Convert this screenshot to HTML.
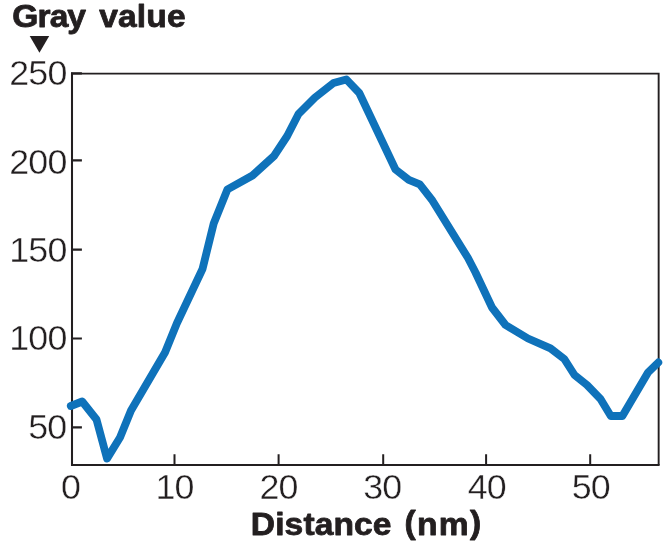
<!DOCTYPE html>
<html lang="en">
<head>
<meta charset="utf-8">
<title>Gray value vs Distance (nm)</title>
<style>
html,body{margin:0;padding:0;background:#fff;}
body{width:667px;height:544px;overflow:hidden;position:relative;}
svg{position:absolute;left:0;top:0;display:block;}
text{font-family:"Liberation Sans","DejaVu Sans",sans-serif;fill:#231f20;}
.b{font-weight:bold;font-size:31.4px;stroke:#231f20;stroke-width:0.8px;stroke-linejoin:round;}
.t{font-size:35.8px;stroke:#fff;stroke-width:0.4px;letter-spacing:-0.9px;}
</style>
</head>
<body>
<svg width="667" height="544" viewBox="0 0 667 544">
  <rect width="667" height="544" fill="#fff"/>
  <!-- plot frame and tick marks -->
  <g fill="none" stroke="#231f20" stroke-width="2">
    <path d="M71 73.65H659.6M658.65 73.65V464.95" stroke-width="1.9"/>
    <path d="M72 72.7V465.95M72 464.95H659.6" stroke-width="2.05"/>
    <path d="M71 73.3h10.9M71 160.4h10.9M71 249.7h10.9M71 338.5h10.9M71 427.3h10.9" stroke-width="2.2"/>
    <path d="M174.5 464.95v-10.6M278.6 464.95v-10.6M383.2 464.95v-10.6M486.1 464.95v-10.6M590.2 464.95v-10.6"/>
  </g>
  <!-- gray value profile -->
  <polyline fill="none" stroke="#0f72ba" stroke-width="7.8" stroke-linejoin="round" stroke-linecap="round"
    points="70.8,406 82.2,401.5 96.5,419.5 107,458.6 120,437.5 131,410.5 165,352.5 177,323 202.5,269 213.7,223.5 227.5,189.3 252.5,175.5 274,156 287.2,136 298.5,114 315,97.5 333.5,83 346.3,79.4 359.3,93 395.5,169.5 408.8,179.8 419.8,184.3 432.5,200.7 468,258 475.5,272.5 492,307.5 505.5,325 528,338.5 550.5,348.3 564.3,359 574.5,375 587,385 600.5,399 610.8,416 622.4,416 648,372.5 658.3,362.5"/>
  <!-- y axis title -->
  <text class="b" transform="translate(0 27.2) scale(1.07 1)"><tspan x="11.57" letter-spacing="-0.9">Gray</tspan> <tspan x="92.66" letter-spacing="0.17">value</tspan></text>
  <path d="M29.7 36h19.5l-9.75 16.8z" fill="#231f20"/>
  <!-- y tick labels -->
  <g class="t" text-anchor="end">
    <text x="66.4" y="84.9">250</text>
    <text x="66.4" y="174">200</text>
    <text x="66.4" y="262">150</text>
    <text x="66.4" y="350">100</text>
    <text x="66.4" y="439">50</text>
  </g>
  <!-- x tick labels -->
  <g class="t" text-anchor="middle">
    <text x="70.4" y="499.4">0</text>
    <text x="174.6" y="499.4">10</text>
    <text x="278.5" y="499.4">20</text>
    <text x="382.3" y="499.4">30</text>
    <text x="486.7" y="499.4">40</text>
    <text x="590.7" y="499.4">50</text>
  </g>
  <!-- x axis title -->
  <text class="b" transform="translate(0 535.0) scale(1.07 1)"><tspan x="234.45" letter-spacing="0.09">Distance</tspan> <tspan x="377.93" letter-spacing="1.24"><tspan dy="-1.7">(</tspan><tspan dy="1.7">nm</tspan><tspan dy="-1.7">)</tspan></tspan></text>
</svg>
</body>
</html>
